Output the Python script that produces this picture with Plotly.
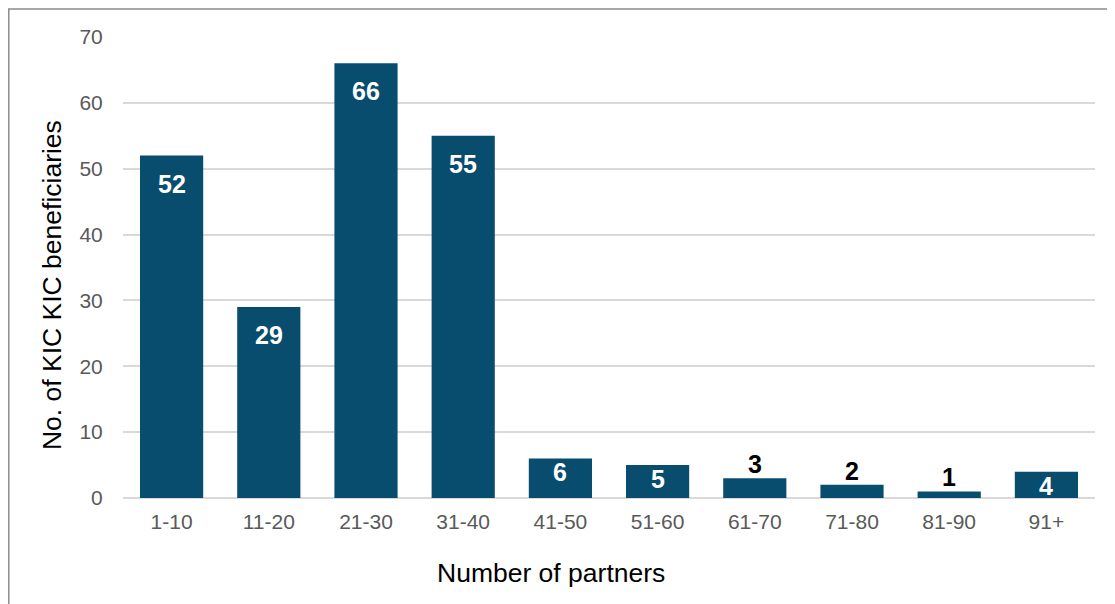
import plotly.graph_objects as go

# data
partner_bins = ['1-10', '11-20', '21-30', '31-40', '41-50', '51-60', '61-70', '71-80', '81-90', '91+']
beneficiaries = [52, 29, 66, 55, 6, 5, 3, 2, 1, 4]
y_ticks = [0, 10, 20, 30, 40, 50, 60, 70]

BAR_COLOR = '#084c6e'
FONT = 'Arial, Liberation Sans, sans-serif'

fig = go.Figure()
fig.add_trace(go.Bar(x=partner_bins, y=beneficiaries, marker=dict(color=BAR_COLOR, line=dict(width=0)),
                     hoverinfo='x+y', showlegend=False))

# data labels: white inside the bar end for taller bars, black above the short ones
for cat, val in zip(partner_bins, beneficiaries):
    if val >= 10:
        shift, color = -28, 'white'
    elif val >= 4:
        shift, color = -14, 'white'
    else:
        shift, color = 14, 'black'
    fig.add_annotation(x=cat, y=val, text=f'<b>{val}</b>', showarrow=False, yanchor='middle', yshift=shift,
                       font=dict(family=FONT, size=25, color=color))

# axis titles, centred on the chart area rather than the plot area (Excel style)
fig.add_annotation(text='Number of partners', xref='paper', yref='paper', x=0.4403, y=-0.1627,
                   xanchor='center', yanchor='middle', showarrow=False,
                   font=dict(family=FONT, size=26.5, color='black'))
fig.add_annotation(text='No. of KIC KIC beneficiaries', xref='paper', yref='paper', x=-0.073, y=0.462,
                   xanchor='center', yanchor='middle', textangle=-90, showarrow=False,
                   font=dict(family=FONT, size=26.5, color='black'))

# outer chart border (only top/left visible in the frame)
fig.add_shape(type='rect', xref='paper', yref='paper', x0=-0.1175, x1=1.2, y0=-0.4, y1=1.061,
              line=dict(color='#8c8c8c', width=1.5), fillcolor='rgba(0,0,0,0)', layer='below')

fig.update_layout(
    width=1107, height=596,
    margin=dict(l=115, r=20, t=29, b=106),
    paper_bgcolor='white', plot_bgcolor='white',
    bargap=0.35,
    font=dict(family=FONT),
    xaxis=dict(tickfont=dict(size=21, color='#595959'), ticks='outside', ticklen=5,
               tickcolor='rgba(0,0,0,0)', showgrid=False, showline=False, zeroline=False),
    yaxis=dict(range=[0, 70], tickvals=y_ticks, tickfont=dict(size=21, color='#595959'),
               ticks='outside', ticklen=15, tickcolor='rgba(0,0,0,0)',
               showgrid=True, gridcolor='#d9d9d9', gridwidth=1.5,
               zeroline=True, zerolinecolor='#d9d9d9', zerolinewidth=1.5, showline=False),
)

fig.write_html('out.html')
